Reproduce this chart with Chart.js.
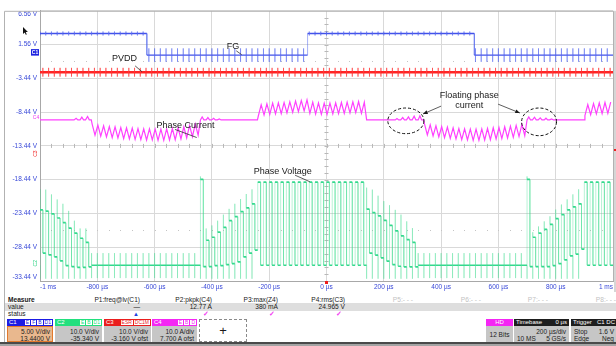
<!DOCTYPE html>
<html>
<head>
<meta charset="utf-8">
<script src="https://cdn.jsdelivr.net/npm/chart.js@4.4.1/dist/chart.umd.min.js"></script>
<style>
html,body{margin:0;padding:0;background:#fff;}
#wrap{position:relative;width:616px;height:346px;overflow:hidden;font-family:"Liberation Sans",Arial,sans-serif;color:#1a1a1a;}
#c{position:absolute;left:0;top:0;}
.a{position:absolute;white-space:nowrap;font-size:6.6px;line-height:8px;}
.box{position:absolute;top:319px;height:23px;box-sizing:border-box;}
.hd{height:7px;line-height:7px;font-size:6px;color:#fff;padding-left:2px;position:relative;}
.tags{position:absolute;right:1px;top:0;height:7px;display:flex;gap:1px;}
.tags i{font-style:normal;font-size:5px;line-height:5px;height:5px;margin-top:1px;padding:0 1px;background:#fff;border:0;}
.bd{height:16px;font-size:6.5px;line-height:7px;text-align:right;padding:1px 2px 0 2px;box-sizing:border-box;color:#222;}
</style>
</head>
<body>
<div id="wrap">
<canvas id="c" width="616" height="292"></canvas>
</div>
<script>
// ---- axes ----
const xTickValues = [-1000, -800, -600, -400, -200, 0, 200, 400, 600, 800, 1000];
const xTickLabels = ['-1 ms', '-800 µs', '-600 µs', '-400 µs', '-200 µs', '0 µs', '200 µs', '400 µs', '600 µs', '800 µs', '1 ms'];
const yTickValues = [6.56, 1.56, -3.44, -8.44, -13.44, -18.44, -23.44, -28.44, -33.44];
const yTickLabels = ['6.56 V', '1.56 V', '-3.44 V', '-8.44 V', '-13.44 V', '-18.44 V', '-23.44 V', '-28.44 V', '-33.44 V'];

// ---- acquisition ----
const pwmPeriodUs = 20;
const firstCycleUs = -1000;
const pwmOnFraction = 0.5;
// vertical setup of each channel: volts (or amps) per division and offset
const channels = {
  C1: { perDiv: 5, offset: 13.44 },
  C2: { perDiv: 10, offset: -35.34 },
  C3: { perDiv: 10, offset: -3.16 },
  C4: { perDiv: 10, offset: 7.7 }
};

// ---- C1: FG hall output (V) ----
const fgLevelsV = [3.2, 0];
const fgEdgesUs = [-627, -66, 516];
const fgStartHigh = true;
const fgGlitchV = [0.3, 1.0];

// ---- C3: PVDD supply (V) ----
const pvddV = 24.97;
const pvddGlitchV = 1.3;

// ---- C4: phase current (A) ----
const phaseCurrentPlan = [['float', 9], ['neg', 19], ['float', 10], ['pos', 19], ['float', 10], ['neg', 18], ['float', 10], ['pos', 5]];
const phaseCurrentMeanA = [
  [-2.9, -3.2, -3.4, -3.6, -3.7, -3.9, -4.0, -4.1, -4.2, -4.3, -4.3, -4.4, -4.4, -4.3, -4.2, -4.0, -3.7, -3.3, -2.9],
  [2.8, 3.1, 3.3, 3.4, 3.5, 3.7, 3.9, 4.1, 4.3, 3.6, 3.4, 3.3, 3.3, 3.4, 3.5, 3.6, 3.7, 3.8, 3.6],
  [-2.8, -3.1, -3.4, -3.6, -3.8, -4.0, -4.2, -4.3, -4.4, -4.4, -4.3, -4.2, -4.0, -3.9, -3.7, -3.5, -3.3, -3.0],
  [2.9, 3.2, 3.4, 3.5, 3.6]
];
const phaseCurrentRippleA = 3.3;
const floatingBumpA = [
  [0, 0, 0, 0, 0, 0, 0.5, 0.8, 1.0],
  [0.9, 0.7, 0.5, 0.3, 0, 0, 0, 0, 0, 0],
  [0, 0, 0, 0, 0, 0.4, 0.7, 0.9, 1.1, 1.2],
  [0.9, 0.8, 0.6, 0.5, 0.3, 0, 0, 0, 0, 0]
];

// ---- C2: phase voltage (V) ----
const phaseVoltagePlan = [['fall', 9], ['low', 19], ['rise', 10], ['high', 19], ['fall', 9], ['low', 19], ['rise', 10], ['high', 5]];
const phaseVoltageRailsV = [24.6, 0];
const phaseVoltageLowSpikeV = [3.6, -3.8];
const rampUpperV = [
  [16.4, 16.0, 15.2, 14.0, 12.6, 11.0, 9.5, 8.0, 6.8],
  [25.4, 7.4, 8.3, 9.8, 11.2, 13.2, 14.4, 15.9, 17.0, 18.2],
  [16.6, 15.6, 14.6, 13.3, 11.8, 10.2, 8.7, 7.6, 6.8],
  [25.4, 8.3, 9.5, 10.6, 12.1, 13.8, 15.0, 16.4, 17.3, 18.2]
];
const rampLowerV = [
  [3.6, 3.1, 2.5, 1.3, -0.1, -0.4, -0.6, -0.6, -0.5],
  [-0.4, -0.4, -0.1, -0.1, 0.2, 0.5, 1.0, 2.5, 3.6, 4.5],
  [3.6, 3.0, 2.2, 1.2, 0.2, -0.3, -0.5, -0.5, -0.5],
  [-0.4, -0.4, -0.4, -0.4, -0.1, 0.5, 1.6, 2.8, 3.3, 4.8]
];
const rampSpikeTopV = [
  [22.5, 22.4, 21.0, 19.5, 18.2, 16.1, 13.2, 10.9, 10.9],
  [26.3, 10.9, 11.8, 13.2, 15.0, 16.7, 18.2, 19.6, 21.1, 22.5],
  [23.0, 22.4, 20.6, 19.0, 17.8, 16.4, 15.0, 13.0, 11.0],
  [26.3, 9.8, 11.5, 13.0, 14.5, 16.5, 18.0, 19.5, 21.0, 22.5]
];
const rampSpikeBottomV = -4.0;

// ---- text annotations (time in µs, level on the C1 scale) ----
const notes = [
  { text: 'FG', t: -326, v: 1.25, from: [-315, 0.64], to: [-296, 0.06] },
  { text: 'PVDD', t: -705, v: -0.5, from: [-668, -1.59], to: [-644, -2.46] },
  { text: 'Phase Current', t: -492, v: -10.4, from: [-529, -11.0], to: [-453, -12.2] },
  { text: 'Phase Voltage', t: -153, v: -17.22, from: [-110, -17.77], to: [-58, -18.75] }
];
const floatingNote = { lines: ['Floating phase', 'current'], t: 498, v: [-6.02, -7.48],
  arrows: [[[400, -7.55], [337, -8.71]], [[599, -7.26], [675, -8.57]]],
  rings: [[277, -9.73, 63, 1.9], [742, -9.88, 61, 2.05]] };

// ---- trace construction ----
const T = pwmPeriodUs;
const cycles = Math.round(2000 / T);
function toAxis(ch, v) { return (v + ch.offset) / ch.perDiv * channels.C1.perDiv - channels.C1.offset; }

function buildPhaseVoltage() {
  const ch = channels.C2, pts = [];
  const add = (t, v) => pts.push({ x: t, y: toAxis(ch, v) });
  let k = 0, ramp = 0, last = phaseVoltageRailsV[1];
  for (const [state, n] of phaseVoltagePlan) {
    for (let i = 0; i < n; i++, k++) {
      const t = firstCycleUs + k * T, tOn = t + T * pwmOnFraction;
      add(t, last);
      if (state === 'high') {
        add(t, phaseVoltageRailsV[0]); add(tOn, phaseVoltageRailsV[0]);
        add(tOn, phaseVoltageRailsV[1]); last = phaseVoltageRailsV[1];
      } else if (state === 'low') {
        add(t, phaseVoltageLowSpikeV[0]); add(t, phaseVoltageLowSpikeV[1]);
        add(t, phaseVoltageRailsV[1]); last = phaseVoltageRailsV[1];
      } else {
        const up = rampUpperV[ramp][i], lo = rampLowerV[ramp][i], top = rampSpikeTopV[ramp][i];
        add(t, rampSpikeBottomV); add(t, top); add(t, up); add(tOn, up); add(tOn, lo); last = lo;
      }
    }
    if (state === 'fall' || state === 'rise') ramp++;
  }
  add(firstCycleUs + k * T, last);
  return pts;
}

function buildPhaseCurrent() {
  const ch = channels.C4, pts = [];
  const add = (t, a) => pts.push({ x: t, y: toAxis(ch, a) });
  const half = phaseCurrentRippleA / 2;
  let k = 0, cond = 0, flt = 0;
  for (const [state, n] of phaseCurrentPlan) {
    for (let i = 0; i < n; i++, k++) {
      const t = firstCycleUs + k * T;
      if (state === 'float') {
        const b = floatingBumpA[flt][i];
        add(t, 0);
        if (b) { add(t + T * 0.3, b); add(t + T * 0.6, 0); }
        add(t + T * 0.95, 0);
      } else {
        const m = phaseCurrentMeanA[cond][i], s = state === 'pos' ? 1 : -1;
        add(t + T * 0.1, m - s * half); add(t + T * 0.6, m + s * half);
      }
    }
    if (state === 'float') flt++; else cond++;
  }
  return pts;
}

function buildFG() {
  const ch = channels.C1, pts = [];
  const add = (t, v) => pts.push({ x: t, y: toAxis(ch, v) });
  let high = fgStartHigh, e = 0;
  const level = () => high ? fgLevelsV[0] : fgLevelsV[1];
  add(firstCycleUs, level());
  for (let k = 0; k < cycles; k++) {
    const t = firstCycleUs + k * T;
    while (e < fgEdgesUs.length && fgEdgesUs[e] <= t) {
      add(fgEdgesUs[e], level()); high = !high; add(fgEdgesUs[e], level()); e++;
    }
    const g = high ? fgGlitchV[0] : fgGlitchV[1];
    add(t, level()); add(t, level() + g); add(t, level() - g); add(t, level());
  }
  add(firstCycleUs + cycles * T, level());
  return pts;
}

function buildPVDD() {
  const ch = channels.C3, pts = [];
  const add = (t, v) => pts.push({ x: t, y: toAxis(ch, v) });
  add(firstCycleUs, pvddV);
  for (let k = 0; k < cycles; k++) {
    const t = firstCycleUs + k * T + T * 0.5;
    add(t, pvddV); add(t, pvddV + pvddGlitchV); add(t, pvddV - pvddGlitchV); add(t, pvddV);
  }
  add(firstCycleUs + cycles * T, pvddV);
  return pts;
}

const isVertical = c => c.p0.parsed.x === c.p1.parsed.x;
function traceStyle(dark, light, wDark, wLight) {
  return {
    borderColor: dark, borderWidth: wDark, pointRadius: 0, tension: 0, fill: false,
    segment: {
      borderColor: c => isVertical(c) ? light : dark,
      borderWidth: c => isVertical(c) ? wLight : wDark
    }
  };
}

// ---- graticule extras, markers and annotations ----
const scopeDecor = {
  id: 'scopeDecor',
  beforeDatasetsDraw(chart) {
    const { ctx, chartArea: a, scales: { x, y } } = chart;
    ctx.save();
    ctx.strokeStyle = '#b2b2b2'; ctx.lineWidth = 1;
    ctx.beginPath();
    ctx.moveTo(4.5, 292); ctx.lineTo(4.5, a.top + 0.5); ctx.lineTo(a.right + 0.5, a.top + 0.5);
    ctx.lineTo(a.right + 0.5, a.bottom); ctx.stroke();
    ctx.fillStyle = '#d6d6d6';
    ctx.fillRect(a.right + 1, a.top, 616 - a.right, 292 - a.top);
    // half-division dotted rows
    const dx = (a.right - a.left) / 50, dy = (a.bottom - a.top) / 40;
    ctx.fillStyle = '#c4c4c4';
    for (const row of [toAxis(channels.C1, 6.56 - 7.5), toAxis(channels.C1, 6.56 - 32.5)]) {
      const py = Math.round(y.getPixelForValue(row));
      for (let i = 1; i < 50; i++) ctx.fillRect(Math.round(a.left + i * dx), py, 1, 1);
    }
    // minor ticks on the centre cross
    const cx = x.getPixelForValue(0), cy = y.getPixelForValue(-13.44);
    ctx.strokeStyle = '#b8b8b8'; ctx.beginPath();
    for (let i = 1; i < 50; i++) { const px = Math.round(a.left + i * dx) + 0.5; ctx.moveTo(px, cy - 2); ctx.lineTo(px, cy + 2); }
    for (let j = 1; j < 40; j++) { const py = Math.round(a.top + j * dy) + 0.5; ctx.moveTo(cx - 2, py); ctx.lineTo(cx + 2, py); }
    ctx.stroke();
    ctx.restore();
  },
  afterDraw(chart) {
    const { ctx, chartArea: a, scales: { x, y } } = chart;
    const P = (t, v) => [x.getPixelForValue(t), y.getPixelForValue(v)];
    ctx.save();
    // ground markers
    const g1 = y.getPixelForValue(toAxis(channels.C1, 0));
    ctx.fillStyle = '#1c22e0'; ctx.fillRect(31, g1 - 6, 8, 6.5);
    ctx.fillStyle = '#fff'; ctx.font = 'bold 5px "Liberation Sans"'; ctx.textAlign = 'center'; ctx.textBaseline = 'middle';
    ctx.fillText('C1', 35, g1 - 2.6);
    const g4 = y.getPixelForValue(toAxis(channels.C4, 0));
    ctx.fillStyle = '#f03cf0'; ctx.font = '5px "Liberation Sans"'; ctx.fillText('C4', 36, g4 - 2.5);
    const vert = (txt, col, py) => { ctx.save(); ctx.translate(36, py); ctx.rotate(-Math.PI / 2); ctx.fillStyle = col; ctx.fillText(txt, 0, 0); ctx.restore(); };
    vert('C3', '#f02020', y.getPixelForValue(toAxis(channels.C3, 0)) - 3);
    vert('C2', '#22d07e', y.getPixelForValue(toAxis(channels.C2, 0)) - 2);
    // trigger position
    ctx.fillStyle = '#ee1c1c'; ctx.fillRect(x.getPixelForValue(0) - 1.5, a.bottom, 3, 3);
    ctx.fillRect(a.right + 1, 149, 2, 2);
    // annotations
    ctx.fillStyle = '#1a1a1a'; ctx.strokeStyle = '#333'; ctx.lineWidth = 0.8;
    ctx.font = '9px "Liberation Sans"'; ctx.textAlign = 'center'; ctx.textBaseline = 'middle';
    for (const n of notes) {
      const [tx, ty] = P(n.t, n.v); ctx.fillText(n.text, tx, ty);
      const [x0, y0] = P(...n.from), [x1, y1] = P(...n.to);
      ctx.beginPath(); ctx.moveTo(x0, y0); ctx.lineTo(x1, y1); ctx.stroke();
    }
    floatingNote.lines.forEach((s, i) => { const [tx, ty] = P(floatingNote.t, floatingNote.v[i]); ctx.fillText(s, tx, ty); });
    for (const [from, to] of floatingNote.arrows) {
      const [x0, y0] = P(...from), [x1, y1] = P(...to);
      ctx.beginPath(); ctx.moveTo(x0, y0); ctx.lineTo(x1, y1); ctx.stroke();
      const ang = Math.atan2(y1 - y0, x1 - x0);
      ctx.beginPath(); ctx.moveTo(x1, y1);
      ctx.lineTo(x1 - 5 * Math.cos(ang - 0.4), y1 - 5 * Math.sin(ang - 0.4));
      ctx.lineTo(x1 - 5 * Math.cos(ang + 0.4), y1 - 5 * Math.sin(ang + 0.4));
      ctx.closePath(); ctx.fill();
    }
    ctx.setLineDash([3, 2]); ctx.lineWidth = 1; ctx.strokeStyle = '#111';
    for (const [t, v, rt, rv] of floatingNote.rings) {
      const [cx, cy] = P(t, v);
      const rx = Math.abs(x.getPixelForValue(t + rt) - cx), ry = Math.abs(y.getPixelForValue(v - rv) - cy);
      ctx.beginPath(); ctx.ellipse(cx, cy, rx, ry, 0, 0, Math.PI * 2); ctx.stroke();
    }
    ctx.setLineDash([]);
    // mouse pointer
    ctx.translate(23, 27); ctx.scale(0.7, 0.7);
    ctx.beginPath(); ctx.moveTo(0, 0); ctx.lineTo(0, 10); ctx.lineTo(2.4, 7.8); ctx.lineTo(4, 11.2);
    ctx.lineTo(5.4, 10.6); ctx.lineTo(3.9, 7.3); ctx.lineTo(7, 7.1); ctx.closePath();
    ctx.fillStyle = '#111'; ctx.fill();
    ctx.restore();
  }
};

// first and last value labels sit just inside the graticule
const yLabelFor = i => i === 0 ? ['', yTickLabels[i]] : i === yTickLabels.length - 1 ? [yTickLabels[i], ''] : yTickLabels[i];

new Chart(document.getElementById('c'), {
  type: 'line',
  data: {
    datasets: [
      { label: 'C1 FG', data: buildFG(), ...traceStyle('#4252ea', 'rgba(80,100,240,0.5)', 1.3, 1) },
      { label: 'C3 PVDD', data: buildPVDD(), ...traceStyle('#ff2424', 'rgba(255,50,50,0.6)', 2.6, 1) },
      { label: 'C4 Phase Current', data: buildPhaseCurrent(), ...traceStyle('#ff40ff', '#ff40ff', 1.2, 1.2) },
      { label: 'C2 Phase Voltage', data: buildPhaseVoltage(), ...traceStyle('#34d98e', 'rgba(60,220,140,0.36)', 1.7, 1) }
    ]
  },
  options: {
    responsive: false, animation: false, maintainAspectRatio: false,
    events: [],
    layout: { padding: { left: 4, right: 3, top: 6, bottom: 0 } },
    plugins: { legend: { display: false }, tooltip: { enabled: false } },
    scales: {
      x: {
        type: 'linear', min: -1000, max: 1000,
        afterBuildTicks: s => { s.ticks = xTickValues.map(v => ({ value: v })); },
        afterFit: s => { s.height = 11; },
        grid: { color: '#d9d9d9', drawTicks: false },
        border: { color: '#a8a8a8' },
        ticks: { color: '#3848d8', font: { size: 6.5, family: 'Liberation Sans' }, padding: 2, align: 'inner',
          maxRotation: 0, autoSkip: false, callback: (v, i) => xTickLabels[i] }
      },
      y: {
        type: 'linear', min: -33.44, max: 6.56,
        afterBuildTicks: s => { s.ticks = yTickValues.map(v => ({ value: v })); },
        afterFit: s => { s.width = 36; },
        grid: { color: '#d9d9d9', drawTicks: false },
        border: { color: '#a8a8a8' },
        ticks: { color: '#3848d8', font: { size: 6.5, family: 'Liberation Sans' }, padding: 3,
          autoSkip: false, callback: (v, i) => yLabelFor(i) }
      }
    }
  },
  plugins: [scopeDecor]
});

// ---- measurement / setup panel ----
const wrap = document.getElementById('wrap');
function addEl(cls, css, txt) {
  const d = document.createElement('div'); d.className = cls; Object.assign(d.style, css);
  if (txt !== undefined) d.textContent = txt; wrap.appendChild(d); return d;
}
const measureHeads = ['P1:freq@lv(C1)', 'P2:pkpk(C4)', 'P3:max(Z4)', 'P4:rms(C3)', 'P5:- - -', 'P6:- - -', 'P7:- - -', 'P8:- - -'];
const measureValues = ['\u2014', '12.77 A', '380 mA', '24.965 V', '', '', '', ''];
const measureStatus = ['\u25B2', '\u2713', '\u2713', '\u2713', '', '', '', ''];
const measureRight = [140, 212, 278, 345, 413, 481, 548, 616];

addEl('', { position: 'absolute', left: '4px', top: '292px', width: '1px', height: '50px', background: '#b2b2b2' });
addEl('', { position: 'absolute', left: '5px', top: '303px', width: '611px', height: '8px', background: '#dedede' });
addEl('a', { left: '8px', top: '296px', fontWeight: 'bold' }, 'Measure');
addEl('a', { left: '8px', top: '303px' }, 'value');
addEl('a', { left: '8px', top: '310px' }, 'status');
measureHeads.forEach((h, i) => {
  const r = (616 - measureRight[i]) + 'px';
  addEl('a', { right: r, top: '296px', color: i < 4 ? '#1a1a1a' : '#c2c2c2' }, h);
  if (measureValues[i]) addEl('a', { right: r, top: '303px' }, measureValues[i]);
  if (measureStatus[i]) addEl('a', { right: (616 - measureRight[i] + (i ? 3 : 1)) + 'px', top: '310px',
    color: i ? '#f23cf2' : '#2040e0', fontSize: i ? '7px' : '6px', fontWeight: 'bold' }, measureStatus[i]);
});

const channelBoxes = [
  { name: 'C1', left: 7, width: 46, head: '#1c1ce4', tags: ['E', 'F', 'B', 'D1'], body: '#e9b88e', edge: '#e27a2e', lines: ['5.00 V/div', '13.4400 V'] },
  { name: 'C2', left: 55, width: 47, head: '#22e07e', tags: ['E', 'B', 'D1'], body: '#c6c6c6', edge: '#c6c6c6', lines: ['10.0 V/div', '-35.340 V'] },
  { name: 'C3', left: 104, width: 47, head: '#ea1e1e', tags: ['ESR', 'DC1M'], body: '#c6c6c6', edge: '#c6c6c6', lines: ['10.0 V/div', '-3.160 V ofst'] },
  { name: 'C4', left: 152, width: 45, head: '#f426f4', tags: ['E', 'B', 'D'], body: '#c6c6c6', edge: '#c6c6c6', lines: ['10.0 A/div', '7.700 A ofst'] }
];
for (const b of channelBoxes) {
  const box = addEl('box', { left: b.left + 'px', width: b.width + 'px' });
  const hd = document.createElement('div'); hd.className = 'hd'; hd.style.background = b.head; hd.textContent = b.name;
  const tg = document.createElement('span'); tg.className = 'tags';
  for (const t of b.tags) { const i = document.createElement('i'); i.textContent = t; i.style.color = b.head; tg.appendChild(i); }
  hd.appendChild(tg); box.appendChild(hd);
  const bd = document.createElement('div'); bd.className = 'bd';
  bd.style.background = b.body; bd.style.border = '1px solid ' + b.edge;
  bd.innerHTML = b.lines.join('<br>'); box.appendChild(bd);
}
addEl('box', { left: '199px', width: '48px', border: '1px dashed #8a8a8a', background: '#fff',
  textAlign: 'center', fontSize: '13px', lineHeight: '21px' }, '+');

// acquisition status boxes
function statusBox(left, width, head, headColor, rows) {
  const box = addEl('box', { left: left + 'px', width: width + 'px' });
  const hd = document.createElement('div'); hd.className = 'hd'; hd.style.background = headColor;
  hd.style.display = 'flex'; hd.style.justifyContent = 'space-between'; hd.style.paddingRight = '2px';
  head.forEach(s => { const sp = document.createElement('span'); sp.textContent = s; hd.appendChild(sp); });
  box.appendChild(hd);
  const bd = document.createElement('div'); bd.className = 'bd'; bd.style.background = '#c6c6c6';
  bd.style.border = '1px solid #c6c6c6';
  rows.forEach(r => {
    const row = document.createElement('div'); row.style.display = 'flex'; row.style.justifyContent = 'space-between';
    r.forEach(s => { const sp = document.createElement('span'); sp.textContent = s; row.appendChild(sp); });
    bd.appendChild(row);
  });
  box.appendChild(bd); return box;
}
const hdBox = statusBox(486, 27, ['', 'HD', ''], '#f426f4', [['', ''], ['', '']]);
hdBox.lastChild.innerHTML = '<div style="text-align:center;line-height:14px">12 Bits</div>';
statusBox(514, 55, ['Timebase', '0 µs'], '#1e1e1e', [['', '200 µs/div'], ['10 MS', '5 GS/s']]);
statusBox(571, 46, ['Trigger', 'C1 DC'], '#1e1e1e', [['Stop', '1.6 V'], ['Edge', 'Neg']]);

addEl('', { position: 'absolute', left: '0px', top: '342px', width: '616px', height: '2px', background: '#4a4a4a' });
addEl('', { position: 'absolute', left: '0px', top: '344px', width: '616px', height: '2px', background: '#a4a4a4' });
</script>
</body>
</html>
